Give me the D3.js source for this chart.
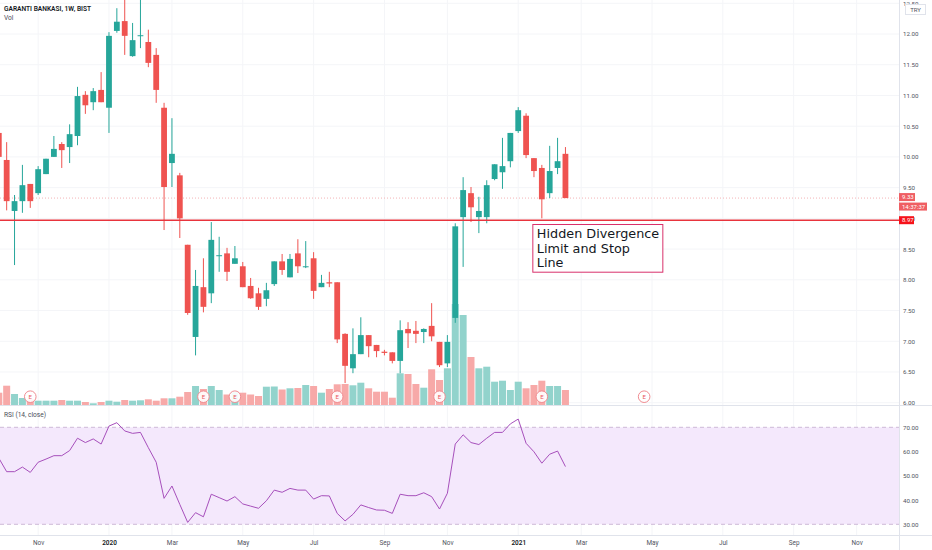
<!DOCTYPE html>
<html>
<head>
<meta charset="utf-8">
<script src="https://cdn.jsdelivr.net/npm/d3@7/dist/d3.min.js"></script>
<style>
  body { margin: 0; background: #fff; }
  text { font-family: Roboto, "Liberation Sans", Arial, sans-serif; }
</style>
</head>
<body>
<script>
// weekly candles, first one is the week of 2019-09-30
var firstWeekStr = '2019-09-30';
var opens  = [10.39, 9.95, 9.12, 9.28, 9.56, 9.41, 9.72, 10.00, 10.21, 10.16, 10.34, 11.01, 10.89, 11.09, 10.80, 12.05, 12.21, 11.64, 11.97, 11.87, 11.66, 10.80, 9.90, 9.70, 8.57, 7.07, 7.88, 7.78, 8.39, 8.43, 8.26, 8.22, 7.90, 7.78, 7.69, 7.93, 8.30, 8.04, 8.43, 8.21, 8.35, 7.88, 7.96, 7.96, 7.12, 6.56, 6.79, 7.10, 6.94, 6.83, 6.82, 6.68, 7.20, 7.17, 7.15, 7.25, 6.99, 6.64, 7.38, 9.02, 9.41, 9.02, 9.02, 9.64, 9.75, 9.93, 10.42, 10.67, 9.98, 9.82, 9.41, 9.82, 10.05];
var highs  = [10.47, 10.24, 9.38, 9.87, 9.56, 9.85, 9.97, 10.34, 10.24, 10.53, 11.14, 11.07, 11.12, 11.38, 12.03, 12.42, 12.75, 12.18, 12.80, 12.07, 11.77, 10.88, 10.63, 9.74, 8.57, 8.16, 8.35, 8.94, 8.70, 8.52, 8.55, 8.29, 8.03, 7.87, 7.95, 8.30, 8.42, 8.42, 8.66, 8.63, 8.45, 8.08, 8.13, 7.96, 7.13, 7.21, 7.39, 7.10, 6.94, 6.86, 6.82, 7.34, 7.31, 7.33, 7.21, 7.62, 6.99, 7.10, 8.92, 9.67, 9.51, 9.35, 9.62, 9.88, 10.31, 10.39, 10.81, 10.71, 9.98, 9.87, 10.18, 10.31, 10.16];
var lows   = [9.95, 9.13, 8.24, 9.09, 9.17, 9.38, 9.72, 10.00, 9.82, 9.90, 10.19, 10.70, 10.76, 10.89, 10.39, 12.02, 11.66, 11.63, 11.77, 11.46, 10.88, 8.81, 9.51, 8.68, 7.43, 6.77, 7.47, 7.62, 8.13, 7.98, 8.26, 7.88, 7.69, 7.51, 7.57, 7.90, 8.08, 8.04, 8.11, 8.19, 7.69, 7.88, 7.88, 6.97, 6.32, 6.48, 6.79, 6.74, 6.74, 6.77, 6.64, 6.48, 6.89, 6.97, 6.97, 7.00, 6.58, 6.58, 7.30, 8.21, 8.94, 8.76, 8.92, 9.62, 9.48, 9.83, 10.39, 9.98, 9.67, 9.00, 9.33, 9.72, 9.33];
var closes = [10.00, 9.28, 9.28, 9.54, 9.28, 9.80, 9.97, 10.13, 10.11, 10.37, 10.99, 10.84, 11.07, 10.89, 11.97, 12.20, 11.97, 11.90, 11.98, 11.53, 11.09, 9.51, 10.05, 9.00, 7.46, 7.90, 7.56, 8.65, 8.40, 8.13, 8.35, 7.88, 7.70, 7.56, 7.83, 8.30, 8.16, 8.34, 8.22, 8.22, 7.82, 7.95, 7.94, 7.03, 6.60, 6.79, 7.10, 6.92, 6.84, 6.81, 6.68, 7.18, 7.13, 7.12, 7.20, 7.08, 6.61, 6.99, 8.87, 9.46, 9.18, 9.12, 9.54, 9.88, 9.85, 10.39, 10.76, 10.03, 9.77, 9.31, 9.77, 9.93, 9.33];
// volume, millions
var volumes = [123, 193, 110, 70, 60, 43, 43, 43, 50, 43, 43, 30, 17, 30, 43, 33, 50, 43, 47, 57, 43, 67, 67, 83, 130, 190, 160, 190, 150, 105, 130, 123, 105, 90, 183, 185, 155, 167, 170, 200, 190, 123, 160, 207, 210, 197, 223, 167, 133, 133, 73, 317, 310, 210, 173, 357, 250, 367, 1010, 900, 480, 367, 383, 233, 243, 150, 233, 167, 200, 243, 190, 190, 150];
var rsiValues = [57.3, 51.7, 51.7, 53.6, 51.4, 55.6, 56.9, 58.3, 58.3, 60.4, 65.5, 63.7, 65.2, 63.1, 70.5, 71.9, 68.5, 67.5, 67.9, 61.6, 55.6, 40.7, 45.8, 38.2, 30.8, 34.8, 33.1, 42.4, 41.0, 39.6, 41.4, 38.4, 37.5, 36.6, 39.7, 44.1, 43.2, 44.8, 44.1, 44.1, 40.4, 41.8, 41.7, 34.5, 31.4, 34.1, 38.0, 36.9, 35.9, 35.8, 34.5, 42.4, 41.8, 41.8, 43.0, 41.4, 36.3, 42.8, 63.1, 66.9, 63.7, 62.9, 65.5, 67.9, 67.9, 71.4, 73.4, 63.4, 59.9, 55.2, 58.9, 60.2, 53.8];

var earningsDates = ['2019-10-28', '2020-03-30', '2020-04-27', '2020-07-27', '2020-10-26', '2021-01-25', '2021-04-26'];
var timeTickDates  = ['2019-11-04', '2020-01-06', '2020-03-02', '2020-05-04', '2020-07-06', '2020-09-07', '2020-11-02', '2021-01-04', '2021-03-01', '2021-05-03', '2021-07-05', '2021-09-06', '2021-11-01'];
var timeTickLabels = ['Nov', '2020', 'Mar', 'May', 'Jul', 'Sep', 'Nov', '2021', 'Mar', 'May', 'Jul', 'Sep', 'Nov'];
var priceTicks = [6, 6.5, 7, 7.5, 8, 8.5, 9, 9.5, 10, 10.5, 11, 11.5, 12, 12.5];
var rsiTicks = [30, 40, 50, 60, 70];
var supportPrice = 8.97;
var lastPrice = 9.33;
var countdown = '14:37:37';
var noteLines = ['Hidden Divergence', 'Limit and Stop', 'Line'];
var noteDate = '2021-01-17', notePrice = 8.90;

// layout
var W = 932, H = 550;
var plotRight = 899, mainBottom = 405.5, rsiTop = 406, rsiBottom = 535.5;
var step = 7.87;

var green = '#26a69a', red = '#ef5350';
var greenVol = '#92d3cc', redVol = '#f7a9a8';

var parse = d3.timeParse('%Y-%m-%d');
var firstWeek = parse(firstWeekStr);
var weeks = opens.map(function(d, i) { return d3.timeMonday.offset(firstWeek, i); });

var svg = d3.select('body').append('svg')
    .attr('width', W)
    .attr('height', H);

// scales
var x = d3.scaleTime()
    .domain([firstWeek, d3.timeMonday.offset(firstWeek, 100)])
    .range([-1.2, -1.2 + 100 * step]);
var y = d3.scaleLinear().domain([6, 12]).range([402.7, 34]);
var yVol = d3.scaleLinear().domain([0, d3.max(volumes)]).range([405, 304]);
var yRsi = d3.scaleLinear().domain([30, 70]).range([524.3, 427.3]);

// clip paths for panes
var defs = svg.append('defs');
defs.append('clipPath').attr('id', 'clipMain')
  .append('rect').attr('x', 0).attr('y', 0).attr('width', plotRight).attr('height', mainBottom);
defs.append('clipPath').attr('id', 'clipRsi')
  .append('rect').attr('x', 0).attr('y', rsiTop).attr('width', plotRight).attr('height', rsiBottom - rsiTop);

// grid
var grid = svg.append('g');
grid.selectAll('.vg')
    .data(timeTickDates.map(parse))
    .enter().append('line')
    .attr('x1', function(d) { return x(d); })
    .attr('x2', function(d) { return x(d); })
    .attr('y1', 0).attr('y2', rsiBottom)
    .attr('stroke', '#f4f5f8');
grid.selectAll('.hg')
    .data(priceTicks)
    .enter().append('line')
    .attr('x1', 0).attr('x2', plotRight)
    .attr('y1', function(d) { return y(d); })
    .attr('y2', function(d) { return y(d); })
    .attr('stroke', '#f4f5f8');

// main pane
var main = svg.append('g').attr('clip-path', 'url(#clipMain)');

// volume bars
main.selectAll('.vol')
    .data(volumes)
    .enter().append('rect')
    .attr('x', function(d, i) { return x(weeks[i]) - 3.5; })
    .attr('y', function(d) { return yVol(d); })
    .attr('width', 7)
    .attr('height', function(d) { return yVol(0) - yVol(d); })
    .attr('fill', function(d, i) { return closes[i] >= opens[i] ? greenVol : redVol; });

// last price line
main.append('line')
    .attr('x1', 0).attr('x2', plotRight)
    .attr('y1', y(lastPrice)).attr('y2', y(lastPrice))
    .attr('stroke', '#f4b3b6')
    .attr('stroke-dasharray', '1,2');

// candles
var candle = main.selectAll('.candle')
    .data(opens)
    .enter().append('g');
candle.append('line')
    .attr('x1', function(d, i) { return x(weeks[i]); })
    .attr('x2', function(d, i) { return x(weeks[i]); })
    .attr('y1', function(d, i) { return y(highs[i]); })
    .attr('y2', function(d, i) { return y(lows[i]); })
    .attr('stroke', function(d, i) { return closes[i] >= opens[i] ? green : red; })
    .attr('stroke-width', 1);
candle.append('rect')
    .attr('x', function(d, i) { return x(weeks[i]) - 2.9; })
    .attr('y', function(d, i) { return y(Math.max(opens[i], closes[i])); })
    .attr('width', 5.8)
    .attr('height', function(d, i) { return Math.max(1, Math.abs(y(opens[i]) - y(closes[i]))); })
    .attr('fill', function(d, i) { return closes[i] >= opens[i] ? green : red; });

// support line
main.append('line')
    .attr('x1', 0).attr('x2', plotRight)
    .attr('y1', y(supportPrice)).attr('y2', y(supportPrice))
    .attr('stroke', '#e8343d')
    .attr('stroke-width', 1.6);

// earnings badges
var badge = main.selectAll('.earn')
    .data(earningsDates.map(parse))
    .enter().append('g')
    .attr('transform', function(d) { return 'translate(' + x(d) + ',396.7)'; });
badge.append('circle')
    .attr('r', 5.8)
    .attr('fill', '#fff')
    .attr('fill-opacity', 0.9)
    .attr('stroke', '#f08c92')
    .attr('stroke-width', 1);
badge.append('text')
    .attr('text-anchor', 'middle')
    .attr('dy', '0.35em')
    .attr('font-size', 6)
    .attr('fill', '#e9565d')
    .text('E');

// annotation box
var noteX = x(parse(noteDate)), noteY = y(notePrice);
main.append('rect')
    .attr('x', noteX).attr('y', noteY)
    .attr('width', 130).attr('height', 47.7)
    .attr('fill', '#fff')
    .attr('stroke', '#d9306b')
    .attr('stroke-width', 1);
main.selectAll('.note')
    .data(noteLines)
    .enter().append('text')
    .attr('x', noteX + 4)
    .attr('y', function(d, i) { return noteY + 14 + i * 14.2; })
    .attr('font-size', 12.8)
    .attr('fill', '#131722')
    .style('font-family', '"DejaVu Sans", sans-serif')
    .text(function(d) { return d; });

// legends
svg.append('text')
    .attr('x', 4).attr('y', 10.5)
    .attr('font-size', 6.6).attr('font-weight', 600)
    .attr('fill', '#131722')
    .text('GARANTI BANKASI, 1W, BIST');
svg.append('text')
    .attr('x', 4).attr('y', 19.5)
    .attr('font-size', 6.6)
    .attr('fill', '#4a4e59')
    .text('Vol');

// rsi pane
var rsiPane = svg.append('g').attr('clip-path', 'url(#clipRsi)');
rsiPane.append('rect')
    .attr('x', 0).attr('width', plotRight)
    .attr('y', yRsi(70)).attr('height', yRsi(30) - yRsi(70))
    .attr('fill', '#f4e8fc');
rsiPane.selectAll('.band')
    .data([70, 30])
    .enter().append('line')
    .attr('x1', 0).attr('x2', plotRight)
    .attr('y1', function(d) { return yRsi(d); })
    .attr('y2', function(d) { return yRsi(d); })
    .attr('stroke', '#cdb9d8')
    .attr('stroke-dasharray', '4,3');
rsiPane.append('path')
    .datum(rsiValues)
    .attr('fill', 'none')
    .attr('stroke', '#a64fbb')
    .attr('stroke-width', 1)
    .attr('d', d3.line()
        .x(function(d, i) { return x(weeks[i]); })
        .y(function(d) { return yRsi(d); }));
svg.append('text')
    .attr('x', 4).attr('y', 416.5)
    .attr('font-size', 6.6)
    .attr('fill', '#4a4e59')
    .text('RSI (14, close)');

// pane borders
svg.append('line')
    .attr('x1', 0).attr('x2', W)
    .attr('y1', mainBottom).attr('y2', mainBottom)
    .attr('stroke', '#e0e3eb');
svg.append('line')
    .attr('x1', 0).attr('x2', W)
    .attr('y1', rsiBottom).attr('y2', rsiBottom)
    .attr('stroke', '#e0e3eb');
svg.append('line')
    .attr('x1', plotRight + 0.5).attr('x2', plotRight + 0.5)
    .attr('y1', 0).attr('y2', H)
    .attr('stroke', '#e0e3eb');

// price axis (12.50 sits under the currency box, as on the original)
var priceAxis = svg.append('g')
    .attr('transform', 'translate(' + plotRight + ',0)')
    .call(d3.axisRight(y).tickValues(priceTicks).tickSize(0).tickPadding(4).tickFormat(d3.format('.2f')));
priceAxis.select('.domain').remove();
priceAxis.selectAll('text')
    .attr('font-size', 6.2)
    .attr('fill', '#50535e');

// rsi axis
var rsiAxis = svg.append('g')
    .attr('transform', 'translate(' + plotRight + ',0)')
    .call(d3.axisRight(yRsi).tickValues(rsiTicks).tickSize(0).tickPadding(4).tickFormat(d3.format('.2f')));
rsiAxis.select('.domain').remove();
rsiAxis.selectAll('text')
    .attr('font-size', 6.2)
    .attr('fill', '#50535e');

// time axis
var timeAxis = svg.append('g')
    .attr('transform', 'translate(0,' + rsiBottom + ')')
    .call(d3.axisBottom(x)
        .tickValues(timeTickDates.map(parse))
        .tickSize(0)
        .tickPadding(5)
        .tickFormat(function(d, i) { return timeTickLabels[i]; }));
timeAxis.select('.domain').remove();
timeAxis.selectAll('text')
    .attr('font-size', 6.4)
    .attr('fill', function(d, i) { return /^\d/.test(timeTickLabels[i]) ? '#131722' : '#50535e'; })
    .attr('font-weight', function(d, i) { return /^\d/.test(timeTickLabels[i]) ? 600 : 400; });

// currency box
svg.append('rect')
    .attr('x', 905.5).attr('y', 4.5)
    .attr('width', 20).attr('height', 10)
    .attr('fill', '#fff')
    .attr('stroke', '#e0e3eb');
svg.append('text')
    .attr('x', 915.5).attr('y', 11.8)
    .attr('text-anchor', 'middle')
    .attr('font-size', 6)
    .attr('fill', '#50535e')
    .text('TRY');

// price labels on the axis
var tags = [
  { text: d3.format('.2f')(lastPrice), cy: y(lastPrice) - 1, w: 16, fill: '#ef5e63' },
  { text: countdown, cy: y(lastPrice) + 8.5, w: 28, fill: '#ef5e63' },
  { text: d3.format('.2f')(supportPrice), cy: y(supportPrice), w: 15, fill: '#f6121a' }
];
var tag = svg.selectAll('.tag')
    .data(tags)
    .enter().append('g')
    .attr('transform', function(d) { return 'translate(' + plotRight + ',' + d.cy + ')'; });
tag.append('rect')
    .attr('x', 0).attr('y', -4)
    .attr('width', function(d) { return d.w; })
    .attr('height', 8)
    .attr('fill', function(d) { return d.fill; });
tag.append('text')
    .attr('x', 3).attr('dy', '0.35em')
    .attr('font-size', 6)
    .attr('fill', '#fff')
    .text(function(d) { return d.text; });
</script>
</body>
</html>
